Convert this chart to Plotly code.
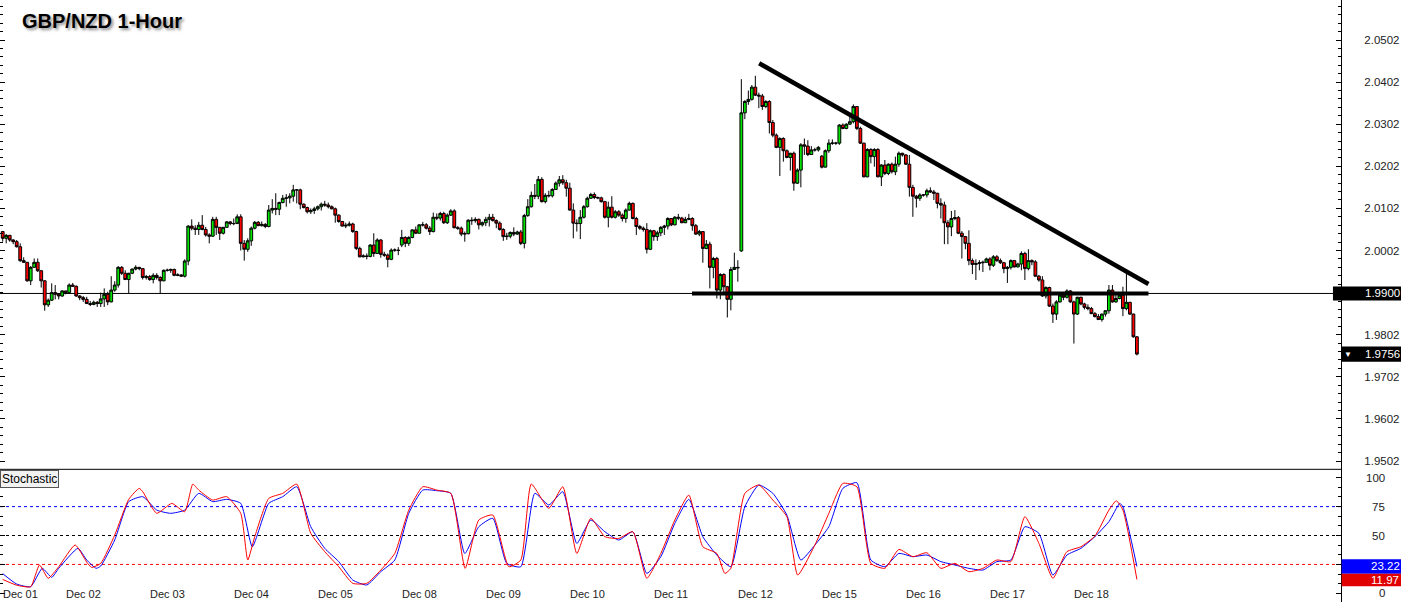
import plotly.graph_objects as go

# ---------------- data (GBP/NZD, 1-hour bars, Dec 01 - Dec 18) ----------------
first_open = 2.0047
closes = [
    2.0031, 2.0038, 2.0027, 2.0023, 2.0011, 1.9978, 1.9974, 1.9930, 1.9962, 1.9974,
    1.9954, 1.9930, 1.9873, 1.9884, 1.9902, 1.9898, 1.9894, 1.9906, 1.9902, 1.9920,
    1.9917, 1.9894, 1.9890, 1.9886, 1.9876, 1.9874, 1.9879, 1.9876, 1.9887, 1.9898,
    1.9880, 1.9908, 1.9920, 1.9962, 1.9948, 1.9933, 1.9948, 1.9958, 1.9962, 1.9959,
    1.9938, 1.9940, 1.9933, 1.9943, 1.9938, 1.9930, 1.9955, 1.9955, 1.9957, 1.9943,
    1.9944, 1.9941, 1.9977, 2.0060, 2.0055, 2.0052, 2.0062, 2.0052, 2.0039, 2.0036,
    2.0076, 2.0057, 2.0043, 2.0057, 2.0070, 2.0066, 2.0066, 2.0082, 2.0019, 2.0005,
    2.0025, 2.0055, 2.0069, 2.0061, 2.0064, 2.0059, 2.0098, 2.0102, 2.0100, 2.0116,
    2.0126, 2.0127, 2.0131, 2.0146, 2.0146, 2.0112, 2.0104, 2.0094, 2.0097, 2.0101,
    2.0106, 2.0112, 2.0110, 2.0106, 2.0101, 2.0086, 2.0071, 2.0060, 2.0062, 2.0065,
    2.0047, 2.0007, 1.9987, 1.9989, 1.9988, 2.0015, 1.9995, 2.0027, 1.9993, 1.9991,
    1.9981, 2.0003, 2.0003, 2.0002, 2.0033, 2.0019, 2.0033, 2.0051, 2.0043, 2.0063,
    2.0063, 2.0055, 2.0047, 2.0081, 2.0079, 2.0090, 2.0068, 2.0086, 2.0096, 2.0056,
    2.0055, 2.0041, 2.0042, 2.0074, 2.0073, 2.0076, 2.0063, 2.0068, 2.0076, 2.0081,
    2.0073, 2.0067, 2.0052, 2.0035, 2.0036, 2.0045, 2.0041, 2.0046, 2.0019, 2.0085,
    2.0106, 2.0133, 2.0131, 2.0171, 2.0118, 2.0133, 2.0132, 2.0147, 2.0162, 2.0170,
    2.0163, 2.0150, 2.0098, 2.0067, 2.0066, 2.0081, 2.0106, 2.0126, 2.0135, 2.0128,
    2.0127, 2.0118, 2.0081, 2.0105, 2.0081, 2.0094, 2.0086, 2.0078, 2.0098, 2.0114,
    2.0078, 2.0059, 2.0055, 2.0052, 2.0005, 2.0049, 2.0035, 2.0044, 2.0057, 2.0060,
    2.0078, 2.0063, 2.0081, 2.0079, 2.0068, 2.0076, 2.0078, 2.0061, 2.0041, 2.0047,
    2.0007, 2.0017, 1.9962, 1.9983, 1.9908, 1.9945, 1.9916, 1.9886, 1.9957, 1.9962,
    1.9961, 2.0329, 2.0356, 2.0361, 2.0390, 2.0371, 2.0369, 2.0344, 2.0356, 2.0306,
    2.0276, 2.0247, 2.0268, 2.0239, 2.0223, 2.0233, 2.0162, 2.0193, 2.0253, 2.0250,
    2.0230, 2.0241, 2.0241, 2.0247, 2.0200, 2.0239, 2.0257, 2.0257, 2.0257, 2.0300,
    2.0292, 2.0302, 2.0308, 2.0344, 2.0292, 2.0257, 2.0177, 2.0242, 2.0225, 2.0242,
    2.0177, 2.0205, 2.0185, 2.0207, 2.0189, 2.0207, 2.0233, 2.0229, 2.0207, 2.0152,
    2.0131, 2.0126, 2.0134, 2.0134, 2.0144, 2.0141, 2.0138, 2.0114, 2.0110, 2.0068,
    2.0058, 2.0078, 2.0080, 2.0043, 2.0035, 2.0019, 1.9978, 1.9969, 1.9971, 1.9973,
    1.9974, 1.9982, 1.9967, 1.9987, 1.9978, 1.9973, 1.9959, 1.9962, 1.9978, 1.9963,
    1.9970, 1.9995, 1.9959, 1.9978, 1.9975, 1.9941, 1.9932, 1.9894, 1.9914, 1.9870,
    1.9851, 1.9880, 1.9896, 1.9891, 1.9906, 1.9880, 1.9851, 1.9891, 1.9875, 1.9867,
    1.9864, 1.9852, 1.9845, 1.9838, 1.9851, 1.9859, 1.9908, 1.9880, 1.9888, 1.9896,
    1.9864, 1.9879, 1.9851, 1.9797, 1.9756,
]
highs = [
    2.0048, 2.0041, 2.0039, 2.0029, 2.0027, 2.0019, 1.9986, 1.9974, 1.9965, 1.9983,
    1.9983, 1.9955, 1.9932, 1.9888, 1.9924, 1.9920, 1.9900, 1.9908, 1.9906, 1.9924,
    1.9925, 1.9919, 1.9896, 1.9894, 1.9892, 1.9882, 1.9883, 1.9882, 1.9902, 1.9912,
    1.9904, 1.9941, 1.9929, 1.9965, 1.9965, 1.9955, 1.9949, 1.9959, 1.9967, 1.9963,
    1.9959, 1.9944, 1.9944, 1.9948, 1.9948, 1.9941, 1.9957, 1.9959, 1.9959, 1.9959,
    1.9948, 1.9946, 1.9981, 2.0062, 2.0076, 2.0062, 2.0070, 2.0086, 2.0058, 2.0043,
    2.0082, 2.0082, 2.0058, 2.0058, 2.0072, 2.0072, 2.0078, 2.0088, 2.0088, 2.0027,
    2.0031, 2.0059, 2.0072, 2.0072, 2.0071, 2.0067, 2.0110, 2.0124, 2.0138, 2.0118,
    2.0134, 2.0136, 2.0138, 2.0158, 2.0148, 2.0149, 2.0114, 2.0106, 2.0102, 2.0106,
    2.0109, 2.0116, 2.0120, 2.0116, 2.0109, 2.0104, 2.0088, 2.0072, 2.0068, 2.0071,
    2.0068, 2.0049, 2.0011, 1.9993, 1.9995, 2.0017, 2.0043, 2.0031, 2.0029, 1.9999,
    1.9995, 2.0007, 2.0007, 2.0010, 2.0051, 2.0036, 2.0036, 2.0052, 2.0059, 2.0064,
    2.0070, 2.0067, 2.0060, 2.0092, 2.0090, 2.0094, 2.0094, 2.0090, 2.0100, 2.0100,
    2.0060, 2.0059, 2.0047, 2.0076, 2.0081, 2.0081, 2.0078, 2.0071, 2.0082, 2.0089,
    2.0089, 2.0076, 2.0071, 2.0055, 2.0044, 2.0047, 2.0057, 2.0049, 2.0051, 2.0089,
    2.0124, 2.0142, 2.0160, 2.0179, 2.0176, 2.0138, 2.0144, 2.0150, 2.0166, 2.0179,
    2.0181, 2.0170, 2.0163, 2.0114, 2.0076, 2.0098, 2.0110, 2.0130, 2.0139, 2.0140,
    2.0130, 2.0130, 2.0120, 2.0118, 2.0131, 2.0098, 2.0098, 2.0090, 2.0102, 2.0118,
    2.0116, 2.0082, 2.0063, 2.0059, 2.0067, 2.0052, 2.0051, 2.0049, 2.0060, 2.0063,
    2.0081, 2.0078, 2.0084, 2.0089, 2.0082, 2.0082, 2.0089, 2.0081, 2.0065, 2.0051,
    2.0047, 2.0027, 2.0023, 1.9987, 1.9987, 1.9948, 1.9948, 1.9918, 1.9963, 1.9997,
    1.9979, 2.0409, 2.0359, 2.0382, 2.0395, 2.0417, 2.0377, 2.0374, 2.0359, 2.0359,
    2.0312, 2.0280, 2.0271, 2.0271, 2.0242, 2.0234, 2.0237, 2.0197, 2.0257, 2.0268,
    2.0264, 2.0250, 2.0246, 2.0250, 2.0229, 2.0242, 2.0266, 2.0266, 2.0260, 2.0302,
    2.0304, 2.0304, 2.0321, 2.0349, 2.0345, 2.0296, 2.0258, 2.0245, 2.0245, 2.0245,
    2.0245, 2.0207, 2.0217, 2.0209, 2.0211, 2.0225, 2.0237, 2.0234, 2.0231, 2.0229,
    2.0158, 2.0134, 2.0138, 2.0136, 2.0149, 2.0152, 2.0146, 2.0139, 2.0126, 2.0118,
    2.0074, 2.0096, 2.0098, 2.0084, 2.0048, 2.0036, 2.0050, 1.9983, 1.9981, 1.9979,
    1.9978, 1.9985, 1.9986, 1.9991, 1.9991, 1.9983, 1.9975, 1.9965, 1.9981, 1.9979,
    1.9973, 2.0000, 1.9999, 2.0005, 1.9981, 1.9979, 1.9944, 1.9941, 1.9917, 1.9916,
    1.9876, 1.9884, 1.9900, 1.9898, 1.9910, 1.9908, 1.9883, 1.9892, 1.9892, 1.9878,
    1.9874, 1.9868, 1.9856, 1.9851, 1.9852, 1.9860, 1.9920, 1.9920, 1.9900, 1.9900,
    1.9916, 1.9951, 1.9880, 1.9852, 1.9799,
]
lows = [
    2.0023, 2.0019, 2.0023, 2.0017, 2.0009, 1.9975, 1.9973, 1.9928, 1.9920, 1.9962,
    1.9951, 1.9914, 1.9859, 1.9868, 1.9882, 1.9886, 1.9886, 1.9892, 1.9898, 1.9900,
    1.9916, 1.9892, 1.9884, 1.9880, 1.9875, 1.9870, 1.9872, 1.9868, 1.9868, 1.9868,
    1.9872, 1.9879, 1.9904, 1.9914, 1.9944, 1.9932, 1.9900, 1.9946, 1.9955, 1.9955,
    1.9933, 1.9933, 1.9930, 1.9924, 1.9933, 1.9900, 1.9929, 1.9952, 1.9949, 1.9941,
    1.9941, 1.9940, 1.9938, 1.9967, 2.0050, 2.0039, 2.0039, 2.0050, 2.0035, 2.0019,
    2.0035, 2.0039, 2.0027, 2.0040, 2.0057, 2.0062, 2.0062, 2.0070, 2.0002, 1.9978,
    1.9999, 2.0013, 2.0052, 2.0060, 2.0059, 2.0055, 2.0057, 2.0090, 2.0086, 2.0086,
    2.0114, 2.0106, 2.0114, 2.0118, 2.0114, 2.0100, 2.0102, 2.0090, 2.0089, 2.0089,
    2.0097, 2.0097, 2.0106, 2.0102, 2.0100, 2.0068, 2.0068, 2.0059, 2.0055, 2.0059,
    2.0044, 2.0003, 1.9986, 1.9986, 1.9981, 1.9986, 1.9987, 1.9994, 1.9985, 1.9987,
    1.9962, 1.9979, 1.9999, 1.9991, 2.0010, 2.0010, 2.0013, 2.0031, 2.0041, 2.0043,
    2.0059, 2.0052, 2.0039, 2.0045, 2.0074, 2.0073, 2.0065, 2.0065, 2.0084, 2.0055,
    2.0051, 2.0036, 2.0023, 2.0040, 2.0063, 2.0068, 2.0052, 2.0059, 2.0060, 2.0059,
    2.0071, 2.0055, 2.0049, 2.0025, 2.0027, 2.0031, 2.0036, 2.0039, 2.0015, 2.0007,
    2.0082, 2.0104, 2.0124, 2.0124, 2.0116, 2.0114, 2.0128, 2.0128, 2.0146, 2.0154,
    2.0158, 2.0130, 2.0097, 2.0031, 2.0047, 2.0029, 2.0078, 2.0104, 2.0125, 2.0124,
    2.0124, 2.0116, 2.0078, 2.0057, 2.0078, 2.0078, 2.0082, 2.0071, 2.0068, 2.0097,
    2.0076, 2.0039, 2.0051, 2.0047, 1.9995, 2.0003, 2.0025, 2.0025, 2.0036, 2.0039,
    2.0052, 2.0060, 2.0062, 2.0074, 2.0067, 2.0067, 2.0074, 2.0049, 2.0039, 2.0036,
    1.9973, 2.0005, 1.9912, 1.9936, 1.9888, 1.9886, 1.9900, 1.9843, 1.9860, 1.9956,
    1.9928, 1.9999, 2.0314, 2.0348, 2.0358, 2.0369, 2.0340, 2.0336, 2.0340, 2.0280,
    2.0271, 2.0245, 2.0179, 2.0213, 2.0221, 2.0192, 2.0144, 2.0160, 2.0152, 2.0229,
    2.0226, 2.0229, 2.0237, 2.0237, 2.0197, 2.0200, 2.0234, 2.0253, 2.0253, 2.0253,
    2.0290, 2.0290, 2.0300, 2.0304, 2.0288, 2.0255, 2.0176, 2.0176, 2.0209, 2.0201,
    2.0176, 2.0155, 2.0181, 2.0181, 2.0185, 2.0181, 2.0201, 2.0225, 2.0205, 2.0130,
    2.0082, 2.0104, 2.0120, 2.0130, 2.0128, 2.0139, 2.0122, 2.0102, 2.0078, 2.0017,
    2.0017, 2.0036, 2.0074, 2.0041, 1.9983, 2.0005, 1.9967, 1.9946, 1.9932, 1.9955,
    1.9951, 1.9973, 1.9955, 1.9963, 1.9975, 1.9970, 1.9948, 1.9925, 1.9957, 1.9962,
    1.9962, 1.9955, 1.9932, 1.9955, 1.9967, 1.9940, 1.9928, 1.9892, 1.9888, 1.9868,
    1.9830, 1.9837, 1.9878, 1.9884, 1.9888, 1.9878, 1.9781, 1.9849, 1.9872, 1.9862,
    1.9860, 1.9851, 1.9843, 1.9837, 1.9833, 1.9845, 1.9852, 1.9878, 1.9878, 1.9886,
    1.9846, 1.9860, 1.9849, 1.9795, 1.9753,
]
# bars whose open differs from the previous close (session gaps)
gap_bars = [114, 211, 234]
gap_opens = [2.0015, 2.0001, 2.0226]

day_labels = ["Dec 01", "Dec 02", "Dec 03", "Dec 04", "Dec 05", "Dec 08", "Dec 09",
              "Dec 10", "Dec 11", "Dec 12", "Dec 15", "Dec 16", "Dec 17", "Dec 18"]
day_first_bar = [0, 18, 42, 66, 90, 114, 138, 162, 186, 210, 234, 258, 282, 306]

# Stochastic %K (red) and %D (blue), read at bar positions incl. turning points
k_bars = [0, 4, 8, 10.5, 13, 16, 20.7, 24, 25.4, 28, 32, 36, 39, 40, 44, 48.3, 52,
          54.3, 56, 60, 64, 68, 70, 72, 76, 80, 84, 88, 92, 96, 100, 104, 108, 112,
          116, 120, 124, 128, 132.1, 136, 140, 144.6, 148, 151, 156, 160, 164, 168,
          172, 176, 180, 184, 188, 192, 196, 200, 204, 206.3, 208, 212, 216, 220,
          224, 227.1, 232, 236, 240, 244, 248, 252, 256, 260, 264, 268, 272, 276,
          280, 284, 288, 292, 296, 300, 304, 308, 312, 316, 318.1, 320, 324]
k_vals = [12, 7, 5.7, 24.5, 13, 23, 41.8, 27, 22.4, 25.9, 50.4, 81.3, 90.8, 87.9, 69.2,
          77.8, 70.6, 94.5, 89.3, 80.7, 83.6, 69.2, 28.8, 49, 82.1, 86.5, 94.5, 51.9,
          36, 23, 8.6, 8.6, 20.1, 34.5, 72, 92.2, 89.3, 86.5, 21.6, 63.4, 67.7, 23,
          28.8, 94.5, 73.5, 92.2, 34.5, 64.9, 49, 47.5, 53.3, 13, 34.5, 63.4, 85,
          40.3, 34.5, 17.2, 21.6, 86.5, 93.7, 80.7, 66.3, 15.8, 41.7, 69.2, 95.1,
          92.2, 25.9, 21.6, 38, 31.7, 35.1, 21.6, 25.9, 18.7, 21.6, 28.8, 27.4, 66.3,
          43.2, 13, 36, 40.3, 49.5, 72, 80.1, 72, 11.97]
d_bars = [0, 4, 8, 11.3, 14, 16, 21.5, 24, 26.7, 28, 32, 36, 40, 44, 48, 52, 56, 60,
          64, 68, 71.3, 76, 80, 84, 88, 92, 96, 100, 104, 108, 112, 116, 120, 124,
          128, 132, 136, 140, 144, 148, 152, 156, 160, 164, 168, 172, 176, 180, 184,
          188, 192, 196, 200, 204, 208, 212, 216, 220, 224, 228, 232, 236, 240, 244,
          248, 252, 256, 260, 264, 268, 272, 276, 280, 284, 288, 292, 296, 300, 304,
          308, 312, 316, 319.1, 320, 324]
d_vals = [17, 8, 5.7, 21.6, 13.8, 21.6, 38.9, 28.8, 21.6, 23.6, 46.1, 79.3, 83.6, 72,
          69.2, 72, 86.5, 79.3, 81.3, 77.8, 40.3, 77.8, 83.6, 92.2, 57.6, 38.9, 27.4,
          11.5, 7.2, 18.7, 28.8, 69.2, 89.3, 88.8, 86.5, 34.5, 57.6, 64.9, 25.9, 23,
          86.5, 76.4, 87.9, 43.2, 63.4, 53.3, 46.1, 53.3, 17.2, 31.7, 60.5, 81.3, 49,
          33.1, 23, 74.9, 93.7, 86.5, 67.7, 28.8, 41.7, 57.6, 90.8, 95.7, 28.8, 23,
          34.5, 31.7, 33.1, 27.4, 24.5, 21.6, 20.1, 27.4, 28.8, 57.6, 51.9, 15.8,
          33.1, 38.9, 49, 62, 77.8, 74.9, 23.22]

# drawn analysis lines (bar index, price)
trend_bars = [216.1, 327.3]
trend_prices = [2.04466, 1.99224]
support_bars = [196.9, 327.3]
support_prices = [1.9900, 1.9900]

level_price = 1.9900
last_price = 1.9756
price_ticks = [2.0502, 2.0402, 2.0302, 2.0202, 2.0102, 2.0002,
               1.9802, 1.9702, 1.9602, 1.9502]
stoch_ticks = [0, 25, 50, 75, 100]
stoch_labels = [100, 75, 50, 0]
stoch_levels = [75, 50, 25]
stoch_level_colors = ["#0000ff", "#000000", "#ff0000"]

# ---------------- build ----------------
n = len(closes)
bars = list(range(n))
opens = [first_open] + closes[:-1]
for b, v in zip(gap_bars, gap_opens):
    opens[b] = v
k_last = k_vals[-1]
d_last = d_vals[-1]

FONT = "Liberation Sans"
XR = [-0.771, 382.3]
SPLIT = 0.2204
LBL = 11.5

fig = go.Figure()
fig.add_trace(go.Candlestick(
    x=bars, open=opens, high=highs, low=lows, close=closes,
    xaxis="x", yaxis="y", whiskerwidth=0,
    increasing=dict(fillcolor="#00e400", line=dict(color="black", width=1)),
    decreasing=dict(fillcolor="#ff0000", line=dict(color="black", width=1)),
    showlegend=False, hoverinfo="skip"))
fig.add_trace(go.Scatter(x=support_bars, y=support_prices, mode="lines",
                         line=dict(color="black", width=4), xaxis="x", yaxis="y",
                         showlegend=False, hoverinfo="skip"))
fig.add_trace(go.Scatter(x=trend_bars, y=trend_prices, mode="lines",
                         line=dict(color="black", width=4.5), xaxis="x", yaxis="y",
                         showlegend=False, hoverinfo="skip"))
fig.add_trace(go.Scatter(x=d_bars, y=d_vals, mode="lines",
                         line=dict(color="#0000ff", width=1, shape="spline", smoothing=0.5),
                         xaxis="x2", yaxis="y2", showlegend=False, hoverinfo="skip"))
fig.add_trace(go.Scatter(x=k_bars, y=k_vals, mode="lines",
                         line=dict(color="#ff0000", width=1, shape="spline", smoothing=0.5),
                         xaxis="x2", yaxis="y2", showlegend=False, hoverinfo="skip"))

shapes = []
shapes.append(dict(type="line", xref="paper", yref="paper", x0=0, x1=1, y0=SPLIT, y1=SPLIT,
                   line=dict(color="black", width=1)))
shapes.append(dict(type="line", xref="paper", yref="y", x0=0, x1=1, y0=level_price, y1=level_price,
                   line=dict(color="black", width=1), layer="below"))
for lv, c in zip(stoch_levels, stoch_level_colors):
    shapes.append(dict(type="line", xref="paper", yref="y2", x0=0, x1=1, y0=lv, y1=lv,
                       line=dict(color=c, width=1, dash="3px,3px"), layer="below"))
ph = 0.00166
shapes.append(dict(type="rect", xref="paper", yref="y", x0=0.994, x1=1.06,
                   y0=level_price - ph, y1=level_price + ph,
                   fillcolor="black", line=dict(width=0), layer="above"))
shapes.append(dict(type="rect", xref="paper", yref="y", x0=1.0005, x1=1.06,
                   y0=last_price - 0.0018, y1=last_price + 0.0018,
                   fillcolor="black", line=dict(width=0), layer="above"))
shapes.append(dict(type="rect", xref="paper", yref="y2", x0=1.0005, x1=1.06,
                   y0=d_last - 6.3, y1=d_last + 6.3,
                   fillcolor="#0000ff", line=dict(width=0), layer="above"))
shapes.append(dict(type="rect", xref="paper", yref="y2", x0=1.0005, x1=1.06,
                   y0=k_last - 5.8, y1=k_last + 5.0,
                   fillcolor="#e00000", line=dict(width=0), layer="above"))

ann = []
ann.append(dict(text="<b>GBP/NZD 1-Hour</b>", xref="paper", yref="paper", x=0, y=1,
                xanchor="left", yanchor="middle", xshift=20, yshift=-21, showarrow=False,
                font=dict(family=FONT, size=20, color="black",
                          shadow="2px 2px 3px rgba(0,0,0,0.45)")))
ann.append(dict(text="Stochastic", xref="paper", yref="paper", x=0, y=(602 - 470) / 602,
                xanchor="left", yanchor="top", showarrow=False,
                font=dict(family=FONT, size=12, color="black"),
                bgcolor="#f2f2f2", bordercolor="#555555", borderwidth=1, borderpad=1))
for lab, b in zip(day_labels, day_first_bar):
    ann.append(dict(text=lab, xref="x2", yref="paper", x=b, y=0, xanchor="left",
                    yanchor="bottom", yshift=0, xshift=-2, showarrow=False,
                    font=dict(family=FONT, size=11, color="#222222")))
for v in stoch_labels:
    ann.append(dict(text=str(v), xref="paper", yref="y2", x=1, y=v, xanchor="right",
                    yanchor="middle", xshift=46, showarrow=False,
                    font=dict(family=FONT, size=LBL, color="#222222")))
ann.append(dict(text=f"{level_price:.4f}", xref="paper", yref="y", x=1, y=level_price,
                xanchor="left", yanchor="middle", xshift=22, showarrow=False,
                font=dict(family=FONT, size=LBL, color="white")))
ann.append(dict(text="\u25bc", xref="paper", yref="y", x=1, y=last_price,
                xanchor="left", yanchor="middle", xshift=1, showarrow=False,
                font=dict(family=FONT, size=8, color="white")))
ann.append(dict(text=f"{last_price:.4f}", xref="paper", yref="y", x=1, y=last_price,
                xanchor="left", yanchor="middle", xshift=22, showarrow=False,
                font=dict(family=FONT, size=LBL, color="white")))
ann.append(dict(text=f"{d_last:.2f}", xref="paper", yref="y2", x=1, y=d_last,
                xanchor="left", yanchor="middle", xshift=28, showarrow=False,
                font=dict(family=FONT, size=LBL, color="white")))
ann.append(dict(text=f"{k_last:.2f}", xref="paper", yref="y2", x=1, y=k_last - 0.5,
                xanchor="left", yanchor="middle", xshift=28, showarrow=False,
                font=dict(family=FONT, size=LBL, color="white")))

fig.update_layout(
    template="none",
    width=1401, height=602,
    margin=dict(l=0, r=60, t=0, b=0, autoexpand=False),
    paper_bgcolor="white", plot_bgcolor="white",
    showlegend=False,
    font=dict(family=FONT),
    boxgap=0.2, boxgroupgap=0,
    xaxis=dict(domain=[0, 1], range=XR, anchor="y", visible=False, showgrid=False,
               rangeslider=dict(visible=False), automargin=False),
    xaxis2=dict(domain=[0, 1], range=XR, anchor="y2", visible=False, showgrid=False,
                automargin=False),
    yaxis=dict(domain=[SPLIT, 1], range=[1.94823, 2.05970], side="right", anchor="x",
               showline=True, linecolor="black", linewidth=1, mirror="ticks",
               ticks="inside", ticklen=5, tickwidth=1, tickcolor="black",
               tickmode="array", tickvals=price_ticks,
               ticktext=[f"{v:.4f}" for v in price_ticks],
               tickfont=dict(family=FONT, size=LBL, color="#222222"),
               ticklabelstandoff=20,
               minor=dict(ticks="inside", ticklen=3, tickcolor="black", tickwidth=1,
                          dtick=0.002, tick0=2.0502, showgrid=False),
               showgrid=False, zeroline=False, automargin=False),
    yaxis2=dict(domain=[0, SPLIT], range=[-7.526, 107.27], side="right", anchor="x2",
                showline=True, linecolor="black", linewidth=1, mirror="ticks",
                ticks="inside", ticklen=5, tickwidth=1, tickcolor="black",
                tickmode="array", tickvals=stoch_ticks, showticklabels=False,
                minor=dict(ticks="inside", ticklen=3, tickcolor="black", tickwidth=1,
                           dtick=25 / 3, tick0=0, showgrid=False),
                showgrid=False, zeroline=False, automargin=False),
    shapes=shapes,
    annotations=ann,
)

fig.write_html("out.html", config={"displayModeBar": False},
               post_script="document.body.style.margin='0';document.body.style.overflow='hidden';")
